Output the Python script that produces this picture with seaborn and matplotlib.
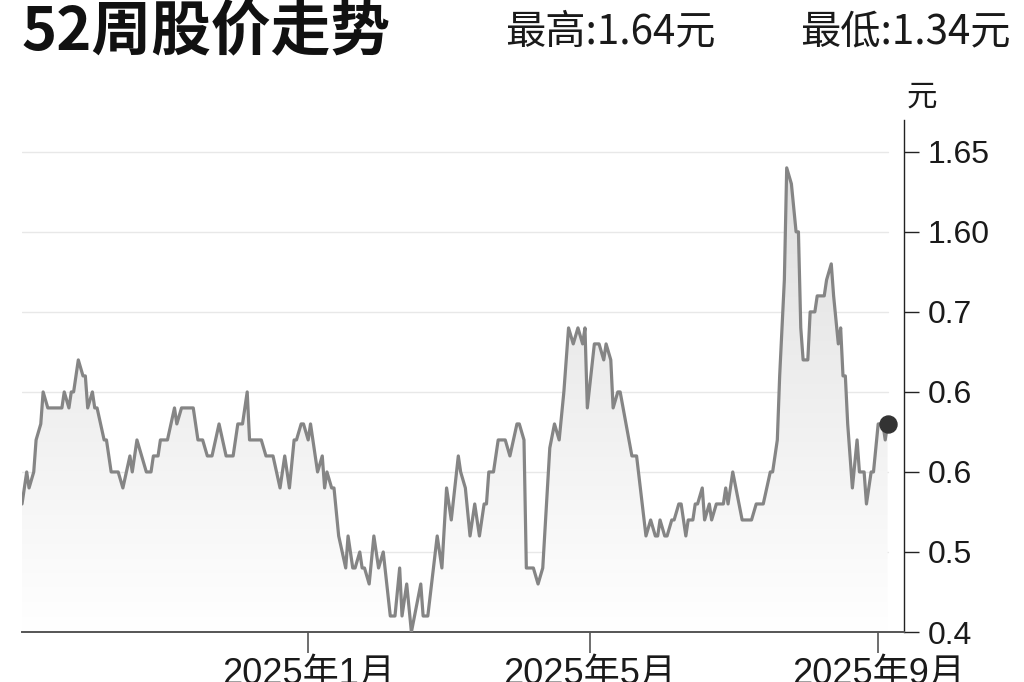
# 52-week share price chart (recreation)

import numpy as np
import pandas as pd
import matplotlib
matplotlib.use('Agg')
import matplotlib.pyplot as plt
import matplotlib.dates as mdates
from matplotlib.colors import LinearSegmentedColormap
import seaborn as sns

# data: days since 2024-09-01 and closing price (元)
start_date = '2024-09-01'
day_offsets = [
    0, 2, 3, 5, 6, 8, 9, 11, 17, 18,
    20, 21, 22, 24, 26, 27, 28, 30, 31, 32,
    35, 36, 38, 41, 43, 46, 47, 49, 53, 55,
    56, 58, 59, 62, 65, 66, 68, 73, 75, 77,
    79, 81, 84, 87, 90, 92, 94, 96, 97, 102,
    104, 107, 110, 112, 114, 116, 117, 119, 120, 122,
    123, 125, 126, 128, 129, 130, 132, 133, 135, 138,
    139, 141, 142, 144, 145, 146, 148, 150, 152, 154,
    157, 159, 161, 162, 164, 166, 170, 171, 173, 177,
    179, 181, 183, 186, 187, 189, 191, 193, 195, 197,
    198, 199, 201, 203, 206, 208, 211, 212, 214, 215,
    218, 220, 222, 225, 227, 229, 231, 233, 235, 237,
    239, 240, 241, 244, 246, 248, 249, 251, 252, 254,
    255, 260, 262, 266, 268, 270, 271, 272, 274, 275,
    277, 278, 280, 281, 283, 284, 286, 287, 288, 290,
    291, 293, 294, 296, 299, 300, 301, 303, 307, 311,
    313, 316, 319, 320, 322, 323, 325, 326, 328, 330,
    331, 332, 333, 335, 336, 337, 338, 339, 342, 343,
    345, 346, 348, 349, 350, 351, 352, 354, 356, 357,
    359, 360, 362, 363, 365, 367, 368, 369,
]
prices = [
    1.43, 1.45, 1.44, 1.45, 1.47, 1.48, 1.50, 1.49, 1.49, 1.50,
    1.49, 1.50, 1.50, 1.52, 1.51, 1.51, 1.49, 1.50, 1.49, 1.49,
    1.47, 1.47, 1.45, 1.45, 1.44, 1.46, 1.45, 1.47, 1.45, 1.45,
    1.46, 1.46, 1.47, 1.47, 1.49, 1.48, 1.49, 1.49, 1.47, 1.47,
    1.46, 1.46, 1.48, 1.46, 1.46, 1.48, 1.48, 1.50, 1.47, 1.47,
    1.46, 1.46, 1.44, 1.46, 1.44, 1.47, 1.47, 1.48, 1.48, 1.47,
    1.48, 1.46, 1.45, 1.46, 1.44, 1.45, 1.44, 1.44, 1.41, 1.39,
    1.41, 1.39, 1.39, 1.40, 1.39, 1.39, 1.38, 1.41, 1.39, 1.40,
    1.36, 1.36, 1.39, 1.36, 1.38, 1.35, 1.38, 1.36, 1.36, 1.41,
    1.39, 1.44, 1.42, 1.46, 1.45, 1.44, 1.41, 1.43, 1.41, 1.43,
    1.43, 1.45, 1.45, 1.47, 1.47, 1.46, 1.48, 1.48, 1.47, 1.39,
    1.39, 1.38, 1.39, 1.465, 1.48, 1.47, 1.50, 1.54, 1.53, 1.54,
    1.53, 1.54, 1.49, 1.53, 1.53, 1.52, 1.53, 1.52, 1.49, 1.50,
    1.50, 1.46, 1.46, 1.41, 1.42, 1.41, 1.41, 1.42, 1.41, 1.41,
    1.42, 1.42, 1.43, 1.43, 1.41, 1.42, 1.42, 1.43, 1.43, 1.44,
    1.42, 1.43, 1.42, 1.43, 1.43, 1.44, 1.43, 1.45, 1.42, 1.42,
    1.43, 1.43, 1.45, 1.45, 1.47, 1.51, 1.57, 1.64, 1.63, 1.60,
    1.60, 1.54, 1.52, 1.52, 1.55, 1.55, 1.55, 1.56, 1.56, 1.57,
    1.58, 1.56, 1.53, 1.54, 1.51, 1.51, 1.48, 1.44, 1.47, 1.45,
    1.45, 1.43, 1.45, 1.45, 1.48, 1.48, 1.47, 1.48,
]

# axis ticks as printed on the chart
y_ticks = [1.35, 1.40, 1.45, 1.50, 1.55, 1.60, 1.65]
y_tick_labels = ['0.4', '0.5', '0.6', '0.6', '0.7', '1.60', '1.65']
x_ticks = ['2025-01-01', '2025-05-01', '2025-09-01']
x_tick_labels = ['2025年1月', '2025年5月', '2025年9月']

title = '52周股价走势'
high_text = '最高:1.64元'
low_text = '最低:1.34元'
unit = '元'

df = pd.DataFrame({
    'date': pd.Timestamp(start_date) + pd.to_timedelta(day_offsets, unit='D'),
    'price': prices,
})

sns.set_theme(style='white')
plt.rcParams['font.family'] = ['Liberation Sans', 'Noto Sans CJK SC', 'DejaVu Sans']
cjk = ['Noto Sans CJK SC', 'DejaVu Sans']

fig = plt.figure(figsize=(10.24, 6.82), dpi=100)
ax = fig.add_axes([0.0215, 0.0733, 0.8613, 0.751])

x0 = pd.Timestamp(start_date)
x1 = x0 + pd.Timedelta(days=376)
y0, y1 = 1.35, 1.67

# light horizontal grid
for yv in y_ticks[1:]:
    ax.axhline(yv, xmin=0, xmax=0.982, color='#e8e8e8', lw=1.0, zorder=0)

# grey gradient under the line
poly = ax.fill_between(df['date'], df['price'], y0, color='none', lw=0)
cmap = LinearSegmentedColormap.from_list('fade', ['#ffffff', '#dedede'])
grad = np.linspace(1, 0, 256).reshape(-1, 1)
im = ax.imshow(grad, extent=[mdates.date2num(x0), mdates.date2num(x1), y0, 1.65],
               aspect='auto', cmap=cmap, origin='upper', zorder=1)
im.set_clip_path(poly.get_paths()[0], transform=ax.transData)

sns.lineplot(data=df, x='date', y='price', estimator=None, sort=False,
             color='#858585', linewidth=2.3, ax=ax, zorder=3)
last = df.iloc[-1]
ax.scatter([last['date']], [last['price']], s=150, color='#333333', zorder=4)

ax.set_xlim(x0, x1)
ax.set_ylim(y0, y1)
ax.set_xlabel('')
ax.set_ylabel('')

ax.yaxis.tick_right()
ax.set_yticks(y_ticks)
ax.set_yticklabels(y_tick_labels)
ax.set_xticks(pd.to_datetime(x_ticks))
ax.set_xticklabels(x_tick_labels)
ax.tick_params(axis='y', direction='out', length=11, width=1, color='#222222',
               pad=6, labelsize=23, labelcolor='#1a1a1a', left=False, right=True)
ax.tick_params(axis='x', direction='out', length=15, width=1.2, color='#555555',
               pad=3, labelsize=26, labelcolor='#1a1a1a', bottom=True)

for side in ['left', 'top']:
    ax.spines[side].set_visible(False)
ax.spines['right'].set_color('#222222')
ax.spines['right'].set_linewidth(1.0)
ax.spines['bottom'].set_color('#555555')
ax.spines['bottom'].set_linewidth(1.4)

fig.text(0.021, 0.953, title, fontsize=43, fontweight='bold', family=cjk,
         va='center', ha='left', color='#111111')
fig.text(0.493, 0.953, high_text, fontsize=29, family=cjk,
         va='center', ha='left', color='#1a1a1a')
fig.text(0.987, 0.953, low_text, fontsize=29, family=cjk,
         va='center', ha='right', color='#1a1a1a')
fig.text(0.900, 0.858, unit, fontsize=22, family=cjk,
         va='center', ha='center', color='#1a1a1a')

plt.savefig('out.png', dpi=100)
plt.close()
